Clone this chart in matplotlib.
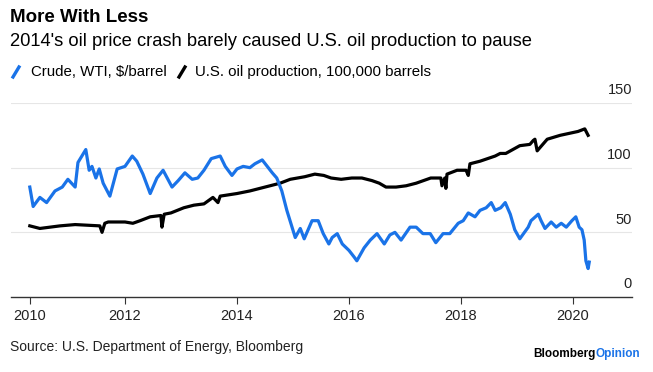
import matplotlib
matplotlib.use("Agg")
import matplotlib.pyplot as plt
from matplotlib.lines import Line2D
import matplotlib.transforms as mtransforms

plt.rcParams['font.family'] = ['Liberation Sans', 'DejaVu Sans']

# WTI crude, $/barrel
wti_year = [2010.30, 2010.36, 2010.48, 2010.60, 2010.75, 2010.88, 2010.98, 2011.11, 2011.16,
            2011.30, 2011.36, 2011.41, 2011.48, 2011.54, 2011.61, 2011.73, 2011.86, 2012.00,
            2012.13, 2012.21, 2012.32, 2012.45, 2012.57, 2012.68, 2012.84, 2012.95, 2013.07,
            2013.20, 2013.30, 2013.41, 2013.54, 2013.70, 2013.79, 2013.91, 2014.00, 2014.11,
            2014.23, 2014.32, 2014.45, 2014.54, 2014.63, 2014.71, 2014.80, 2014.89, 2015.04,
            2015.13, 2015.20, 2015.34, 2015.45, 2015.54, 2015.64, 2015.70, 2015.79, 2015.88,
            2016.00, 2016.09, 2016.14, 2016.27, 2016.38, 2016.50, 2016.63, 2016.73, 2016.82,
            2016.93, 2017.09, 2017.20, 2017.32, 2017.45, 2017.55, 2017.68, 2017.80, 2017.95,
            2018.04, 2018.13, 2018.25, 2018.34, 2018.45, 2018.54, 2018.61, 2018.71, 2018.79,
            2018.88, 2018.96, 2019.05, 2019.20, 2019.25, 2019.38, 2019.43, 2019.50, 2019.61,
            2019.70, 2019.79, 2019.88, 2019.98, 2020.05, 2020.11, 2020.16, 2020.20, 2020.23,
            2020.27, 2020.29]
wti_value = [85, 70, 77, 73, 82, 85, 91, 85, 104,
             114, 98, 101, 92, 99, 88, 78, 99, 101,
             109, 105, 95, 80, 92, 98, 85, 90, 96,
             91, 92, 98, 107, 109, 101, 94, 99, 101,
             100, 103, 106, 101, 96, 92, 82, 67, 46,
             53, 45, 59, 59, 49, 41, 46, 49, 41,
             36, 31, 28, 38, 44, 49, 41, 48, 50,
             44, 54, 54, 49, 49, 42, 49, 49, 57,
             59, 65, 62, 67, 69, 73, 67, 69, 73,
             64, 52, 45, 54, 59, 64, 59, 53, 58,
             54, 57, 54, 59, 62, 54, 52, 44, 28,
             22, 27]

# U.S. oil production, 100,000 barrels/day
prod_year = [2010.30, 2010.48, 2010.84, 2011.11, 2011.55, 2011.59, 2011.64, 2011.70, 2012.00,
             2012.14, 2012.27, 2012.45, 2012.64, 2012.66, 2012.70, 2012.82, 2013.05, 2013.23,
             2013.41, 2013.57, 2013.66, 2013.70, 2014.00, 2014.23, 2014.50, 2014.77, 2014.95,
             2015.21, 2015.39, 2015.55, 2015.68, 2015.86, 2016.05, 2016.23, 2016.41, 2016.54,
             2016.66, 2016.84, 2017.02, 2017.20, 2017.46, 2017.64, 2017.66, 2017.71, 2017.73,
             2017.75, 2017.93, 2018.09, 2018.13, 2018.16, 2018.34, 2018.61, 2018.70, 2018.80,
             2019.05, 2019.23, 2019.29, 2019.32, 2019.36, 2019.54, 2019.77, 2020.09, 2020.21,
             2020.27]
prod_value = [55, 53, 55, 56, 55, 50, 57, 58, 58,
              57, 59, 62, 63, 54, 64, 65, 69, 71,
              72, 77, 73, 78, 80, 82, 85, 88, 91,
              93, 95, 94, 92, 91, 92, 92, 90, 88,
              85, 85, 86, 88, 92, 92, 86, 92, 84,
              95, 98, 98, 94, 103, 105, 109, 111, 111,
              117, 118, 121, 122, 113, 122, 125, 128, 130,
              125]

y_ticks = [0, 50, 100, 150]
x_tick_pos = [2010.30, 2012, 2014, 2016, 2018, 2020]
x_tick_labels = ['2010', '2012', '2014', '2016', '2018', '2020']

blue = '#1a73e8'

W, H = 653, 372
fig = plt.figure(figsize=(W / 100, H / 100), dpi=100)
ax = fig.add_axes([11 / W, 1 - 297 / H, (632 - 11) / W, (297 - 103) / H])

ax.plot(prod_year, prod_value, color='black', lw=2.3, solid_joinstyle='round', zorder=3)
ax.plot(wti_year, wti_value, color=blue, lw=2.3, solid_joinstyle='round', zorder=4)

ax.set_xlim(2014 - (237 - 11) / 56, 2014 + (632 - 237) / 56)
ax.set_ylim(0, 150)

for s in ['top', 'right', 'left']:
    ax.spines[s].set_visible(False)
ax.spines['bottom'].set_color('#333333')
ax.spines['bottom'].set_linewidth(1.0)

ax.set_yticks(y_ticks[1:])
ax.yaxis.grid(True, color='#e6e6e6', lw=0.8)
ax.tick_params(axis='y', length=0, labelleft=False)
ax.set_axisbelow(True)

ax.set_xticks(x_tick_pos)
ax.set_xticklabels(x_tick_labels, fontsize=10.5, color='#222222')
ax.tick_params(axis='x', length=5, width=0.8, color='#333333', pad=4)

offset = mtransforms.ScaledTranslation(0, 4 / 72, fig.dpi_scale_trans)
for v in y_ticks:
    ax.text(1.0, v, str(v), transform=ax.get_yaxis_transform() + offset,
            ha='right', va='bottom', fontsize=10.5, color='#222222')

fig.text(10 / W, 1 - 18 / H, 'More With Less', fontsize=13.5, fontweight='bold',
         va='center', ha='left', color='black')
fig.text(10 / W, 1 - 42 / H, "2014's oil price crash barely caused U.S. oil production to pause",
         fontsize=13.2, va='center', ha='left', color='black')

# legend
fig.add_artist(Line2D([13 / W, 19 / W], [1 - 77 / H, 1 - 67 / H], color=blue, lw=2.4,
                      transform=fig.transFigure))
fig.text(31 / W, 1 - 72 / H, 'Crude, WTI, $/barrel', fontsize=10.8, va='center', ha='left')
fig.add_artist(Line2D([179 / W, 185 / W], [1 - 77 / H, 1 - 67 / H], color='black', lw=2.4,
                      transform=fig.transFigure))
fig.text(195 / W, 1 - 72 / H, 'U.S. oil production, 100,000 barrels', fontsize=10.8,
         va='center', ha='left')

fig.text(10 / W, 1 - 347 / H, 'Source: U.S. Department of Energy, Bloomberg',
         fontsize=10, va='center', ha='left', color='#222222')
t1 = fig.text(533 / W, 1 - 354 / H, 'Bloomberg', fontsize=8.5, fontweight='bold',
              va='center', ha='left', color='black')
fig.canvas.draw()
bb = t1.get_window_extent()
fig.text(bb.x1 / W, 1 - 354 / H, 'Opinion', fontsize=8.5, fontweight='bold',
         va='center', ha='left', color=blue)

fig.savefig('out.png', dpi=100)
